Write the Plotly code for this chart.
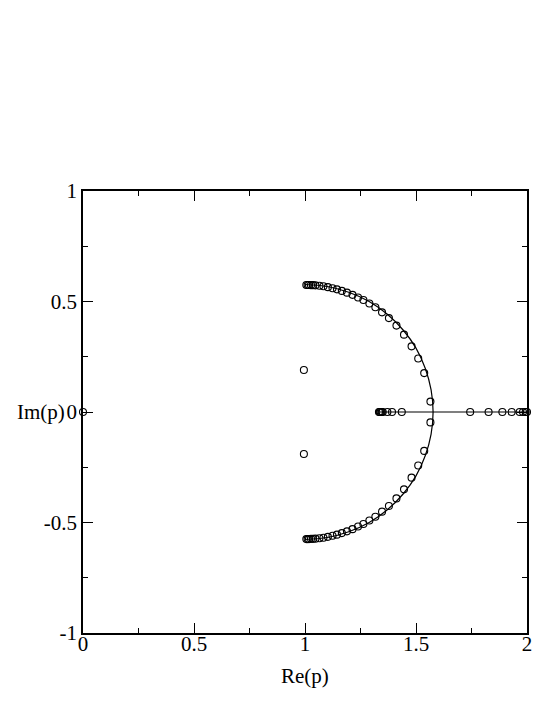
import plotly.graph_objects as go

# continuous curve: arc (upper half then lower half)
arc_x = [1.000, 1.100, 1.197, 1.289, 1.371, 1.442, 1.500, 1.542, 1.568, 1.577,
         1.568, 1.542, 1.500, 1.442, 1.371, 1.289, 1.197, 1.100, 1.000]
arc_y = [0.577, 0.568, 0.542, 0.500, 0.442, 0.371, 0.289, 0.197, 0.100, 0.000,
         -0.100, -0.197, -0.289, -0.371, -0.442, -0.500, -0.542, -0.568, -0.577]

# real-axis segment
seg_x = [1.333, 2.0]
seg_y = [0.0, 0.0]

# points on the arc, upper branch
up_x = [1.006, 1.012, 1.018, 1.027, 1.036, 1.047, 1.065, 1.083, 1.103, 1.124,
        1.144, 1.166, 1.189, 1.214, 1.239, 1.263, 1.290, 1.317, 1.347, 1.378,
        1.412, 1.446, 1.480, 1.510, 1.537, 1.565]
up_y = [0.575, 0.575, 0.575, 0.574, 0.574, 0.573, 0.571, 0.569, 0.565, 0.560,
        0.555, 0.548, 0.540, 0.530, 0.518, 0.507, 0.491, 0.474, 0.451, 0.425,
        0.391, 0.350, 0.297, 0.242, 0.176, 0.047]

# lower branch
lo_x = [1.006, 1.012, 1.018, 1.027, 1.036, 1.047, 1.065, 1.083, 1.103, 1.124,
        1.144, 1.166, 1.189, 1.214, 1.239, 1.263, 1.290, 1.317, 1.347, 1.378,
        1.412, 1.446, 1.480, 1.510, 1.537, 1.565]
lo_y = [-0.575, -0.575, -0.575, -0.574, -0.574, -0.573, -0.571, -0.569, -0.565, -0.560,
        -0.555, -0.548, -0.540, -0.530, -0.518, -0.507, -0.491, -0.474, -0.451, -0.425,
        -0.391, -0.350, -0.297, -0.242, -0.176, -0.047]

# points on the real axis
real_x = [0.0, 1.333, 1.337, 1.341, 1.346, 1.350, 1.371, 1.392, 1.436,
          1.744, 1.827, 1.889, 1.931, 1.967, 1.982, 1.994, 2.0]
real_y = [0.0] * len(real_x)

# the two lone points
iso_x = [0.995, 0.995]
iso_y = [0.19, -0.19]

x_ticks = [0, 0.5, 1, 1.5, 2]
x_text = ["0", "0.5", "1", "1.5", "2"]
y_ticks = [-1, -0.5, 0, 0.5, 1]
y_text = ["-1", "-0.5", "0", "0.5", "1"]

FONT = "Liberation Serif, Times New Roman, serif"

fig = go.Figure()

fig.add_trace(go.Scatter(x=arc_x, y=arc_y, mode="lines",
                         line=dict(color="black", width=1.2, shape="spline", smoothing=1.0),
                         hoverinfo="skip"))
fig.add_trace(go.Scatter(x=seg_x, y=seg_y, mode="lines",
                         line=dict(color="black", width=1.2), hoverinfo="skip"))

mk = dict(symbol="circle-open", size=7, color="black", line=dict(width=1.1, color="black"))
for xs, ys in [(up_x, up_y), (lo_x, lo_y), (real_x, real_y), (iso_x, iso_y)]:
    fig.add_trace(go.Scatter(x=xs, y=ys, mode="markers", marker=mk, cliponaxis=False))

axis_common = dict(
    showgrid=False, zeroline=False,
    showline=True, linecolor="black", linewidth=1.5, mirror="ticks",
    ticks="inside", ticklen=10, tickwidth=1.2, tickcolor="black",
    tickfont=dict(family=FONT, size=21, color="black"),
    minor=dict(ticks="inside", ticklen=5, tickwidth=1.2, tickcolor="black", dtick=0.25),
)

fig.update_xaxes(range=[0, 2], tickmode="array", tickvals=x_ticks, ticktext=x_text,
                 ticklabelstandoff=-9, **axis_common)
fig.update_yaxes(range=[-1, 1], tickmode="array", tickvals=y_ticks, ticktext=y_text,
                 **axis_common)

fig.add_annotation(text="Im(p)", xref="paper", yref="y", x=-0.036, y=0,
                   xanchor="right", yanchor="middle", showarrow=False,
                   font=dict(family=FONT, size=21, color="black"))
fig.add_annotation(text="Re(p)", xref="x", yref="paper", x=1, y=-0.097,
                   xanchor="center", yanchor="middle", showarrow=False,
                   font=dict(family=FONT, size=21, color="black"))

# page body adds an 8px offset, so the figure is drawn 8px smaller
fig.update_layout(
    width=546, height=709,
    margin=dict(l=75, r=27, t=183, b=84),
    plot_bgcolor="white", paper_bgcolor="white",
    showlegend=False,
)

fig.write_html("out.html")
